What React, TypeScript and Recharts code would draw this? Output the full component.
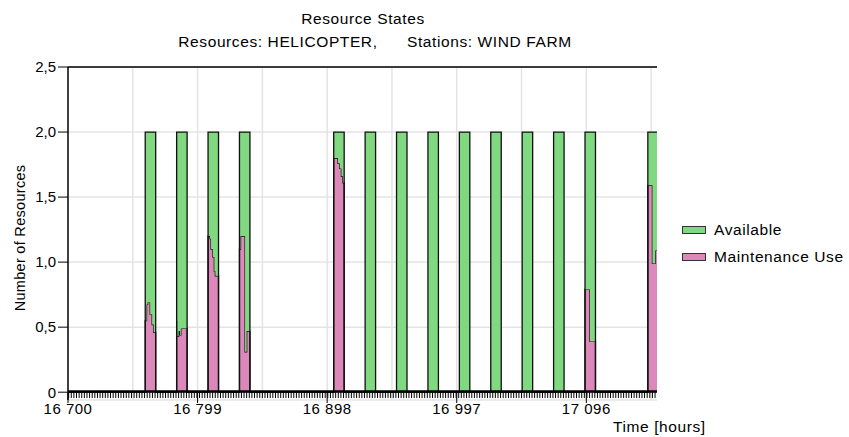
import React from 'react';
import { AreaChart, Area, XAxis, YAxis, CartesianGrid, ReferenceLine } from 'recharts';

// shift starts (hours) and length
const shiftStarts = [16759, 16783, 16807, 16831, 16903, 16927, 16951, 16975, 16999, 17023, 17047, 17071, 17095, 17143];
const shiftLength = 8;
const totalResources = 2;

// maintenance use during each shift: [hours into shift, resources in maintenance]
const maintenanceSteps: [number, number][][] = [
  [[0, 0.55], [1, 0.675], [1.8, 0.69], [3.8, 0.6], [5.3, 0.52], [6.5, 0.46]],
  [[0, 0.55], [0.5, 0.43], [1.5, 0.47], [2.5, 0.44], [3.2, 0.49]],
  [[0, 1.2], [1.5, 1.18], [2.3, 1.1], [3.6, 1.04], [4.8, 0.93], [5.6, 0.895]],
  [[0, 1.1], [0.8, 1.2], [4.3, 0.31], [5.5, 0.47]],
  [[0, 1.8], [3.3, 1.76], [4.6, 1.72], [5.9, 1.66], [7.1, 1.61]],
  [[0, 0]],
  [[0, 0]],
  [[0, 0]],
  [[0, 0]],
  [[0, 0]],
  [[0, 0]],
  [[0, 0]],
  [[0, 0.79], [3.8, 0.39]],
  [[0, 1.59], [3.5, 0.99], [5.6, 1.09]],
];

const xDomain: [number, number] = [16700, 17150];
const yDomain: [number, number] = [-0.06, 2.5]; // small band below 0 holds the minor ticks
const minorTickDepth = -0.045;
const majorTicks = [16700, 16799, 16898, 16997, 17096];
const gridTimes = [16749.5, 16799, 16848.5, 16898, 16947.5, 16997, 17046.5, 17096, 17145.5];
const yTicks = [0, 0.5, 1, 1.5, 2, 2.5];

const series = [
  { key: 'avail', name: 'Available', color: '#80D880' },
  { key: 'maint', name: 'Maintenance Use', color: '#DD88BB' },
];

const data: { t: number; maint: number; avail: number }[] = [{ t: xDomain[0], maint: 0, avail: 0 }];
shiftStarts.forEach((start, i) => {
  maintenanceSteps[i].forEach(([off, v]) => {
    data.push({ t: start + off, maint: v, avail: totalResources - v });
  });
  data.push({ t: start + shiftLength, maint: 0, avail: 0 });
});

// minor ticks every 2 hours
const minorTicks: number[] = [];
for (let t = xDomain[0]; t < xDomain[1]; t += 2) minorTicks.push(t + 0.5);

const FONT = '"Liberation Sans", Arial, sans-serif';

const fmtX = (v: number) => String(v).replace(/(\d+)(\d{3})$/, '$1 $2');
const fmtY = (v: number) => (v === 0 ? '0' : v.toFixed(1).replace('.', ','));

const XTick = (props: any) => {
  const { x, y, payload } = props;
  return (
    <g>
      <line x1={x} x2={x} y1={y - 8} y2={y + 3} stroke="#000" strokeWidth={1} />
      <text x={x} y={y + 14} textAnchor="middle" fill="#000" fontSize={15} letterSpacing={0.5} fontFamily={FONT}>
        {fmtX(payload.value)}
      </text>
    </g>
  );
};

const App: React.FC = () => {
  return (
    <div style={{ position: 'absolute', left: 0, top: 0, width: 849, height: 437, background: '#fff', fontFamily: FONT }}>
      <div style={{ position: 'absolute', left: 0, width: 726, top: 10, textAlign: 'center', fontSize: 15.5, letterSpacing: 0.6 }}>
        Resource States
      </div>
      <div style={{ position: 'absolute', left: 0, width: 750, top: 33, textAlign: 'center', fontSize: 15.5, letterSpacing: 0.6, whiteSpace: 'pre' }}>
        {'Resources: HELICOPTER,      Stations: WIND FARM'}
      </div>
      <AreaChart width={849} height={437} data={data} margin={{ top: 67, right: 192, left: 8, bottom: 0 }}>
        <CartesianGrid
          vertical
          horizontal
          stroke="#e4e4e4"
          strokeWidth={1.5}
          verticalCoordinatesGenerator={({ xAxis, offset }: any) =>
            gridTimes.map((t) =>
              xAxis && typeof xAxis.scale === 'function'
                ? xAxis.scale(t)
                : offset.left + ((t - xDomain[0]) / (xDomain[1] - xDomain[0])) * offset.width
            )
          }
        />
        <XAxis
          dataKey="t"
          type="number"
          domain={xDomain}
          allowDataOverflow
          ticks={majorTicks}
          interval={0}
          tick={<XTick />}
          tickLine={false}
          tickSize={0}
          tickMargin={0}
          height={37}
          axisLine={false}
        />
        <YAxis
          type="number"
          domain={yDomain}
          allowDataOverflow
          ticks={yTicks}
          tickFormatter={fmtY}
          width={60}
          tickSize={10}
          tickMargin={2}
          tick={{ fill: '#000', fontSize: 15, fontFamily: FONT }}
          tickLine={{ stroke: '#000' }}
          axisLine={{ stroke: '#000', strokeWidth: 1.5 }}
        />
        <ReferenceLine y={2.5} stroke="#000" strokeWidth={1.5} />
        <Area
          dataKey="maint"
          stackId="s"
          type="stepAfter"
          fill="#DD88BB"
          fillOpacity={1}
          stroke="#111"
          strokeWidth={1.3}
          isAnimationActive={false}
        />
        <Area
          dataKey="avail"
          stackId="s"
          type="stepAfter"
          fill="#80D880"
          fillOpacity={1}
          stroke="#111"
          strokeWidth={1.3}
          isAnimationActive={false}
        />
        {minorTicks.map((t) => (
          <ReferenceLine key={t} segment={[{ x: t, y: 0.01 }, { x: t, y: minorTickDepth }]} stroke="#000" strokeWidth={1} />
        ))}
        <ReferenceLine y={0.005} stroke="#000" strokeWidth={2.5} />
      </AreaChart>
      <div
        style={{
          position: 'absolute',
          left: 20,
          top: 238,
          transform: 'translate(-50%, -50%) rotate(-90deg)',
          fontSize: 14.5,
          letterSpacing: 0.3,
          whiteSpace: 'nowrap',
        }}
      >
        Number of Resources
      </div>
      <div style={{ position: 'absolute', left: 613, top: 418, fontSize: 15.5, letterSpacing: 0.6 }}>Time [hours]</div>
      {series.map((s, i) => (
        <div key={s.key} style={{ position: 'absolute', left: 682, top: 221 + i * 27, display: 'flex', alignItems: 'center' }}>
          <div style={{ width: 22, height: 6, background: s.color, border: '1px solid #333' }} />
          <span style={{ marginLeft: 8, fontSize: 15.5, letterSpacing: 0.6 }}>{s.name}</span>
        </div>
      ))}
    </div>
  );
};

export default App;
